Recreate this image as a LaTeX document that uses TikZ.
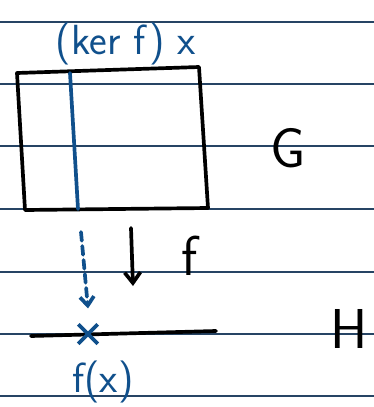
\documentclass[tikz,border=0pt]{standalone}
\usepackage{amsmath}
\usepackage{xcolor}
\usepackage{tikz}
\usetikzlibrary{arrows.meta, positioning, shapes.misc}
\definecolor{inkblue}{RGB}{16, 80, 140}
\definecolor{ruleblue}{RGB}{38, 68, 100}

\begin{document}
\begin{tikzpicture}[x=0.02cm, y=-0.02cm,
    ink/.style={line width=2.1pt, line cap=round, line join=round},
    hand/.style={font=\sffamily\fontsize{32}{36}\selectfont}]
    \useasboundingbox (0,0) rectangle (374,407);
    % Ruled paper
    \foreach \yy in {22,84,146,209,272,334,396}
        \draw[ruleblue, line width=0.6pt] (0,\yy) -- (374,\yy);

    % Group G as a box
    \coordinate (gNW) at (17,73);
    \coordinate (gNE) at (199,67);
    \coordinate (gSE) at (208,208);
    \coordinate (gSW) at (25,210);
    \draw[ink] (gNW) -- (gNE) -- (gSE) -- (gSW) -- cycle;
    \node[hand] (G) at (288,148) {G};

    % The kernel coset
    \coordinate (kerTop) at (70,73);
    \coordinate (kerBot) at (78,209);
    \draw[ink, inkblue] (kerTop) -- (kerBot);
    \node[inkblue, font=\sffamily\fontsize{24}{28}\selectfont] (kerlbl) at (126,44) {(ker f) x};

    % The map f
    \coordinate (fTop) at (131,228);
    \coordinate (fBot) at (133,286);
    \draw[ink, -{Straight Barb[length=6pt, width=9pt]}] (fTop) -- (fBot);
    \node[hand] (f) at (190,256) {f};

    % Group H as a segment
    \coordinate (hW) at (31,336);
    \coordinate (hE) at (216,331);
    \draw[ink] (hW) -- (hE);
    \node[hand] (H) at (349,329) {H};

    % Image of the coset
    \node[cross out, draw=inkblue, line width=2.1pt, minimum size=9pt, inner sep=0pt] (fx) at (88,334) {};
    \coordinate (dashTop) at (81,232);
    \draw[ink, inkblue, dash pattern=on 5pt off 3pt, -{Straight Barb[length=5pt, width=8pt]}] (dashTop) -- ([yshift=9pt]fx.north);
    \node[inkblue, font=\sffamily\fontsize{24}{28}\selectfont] (fxlbl) at (103,382) {f(x)};
\end{tikzpicture}
\end{document}
